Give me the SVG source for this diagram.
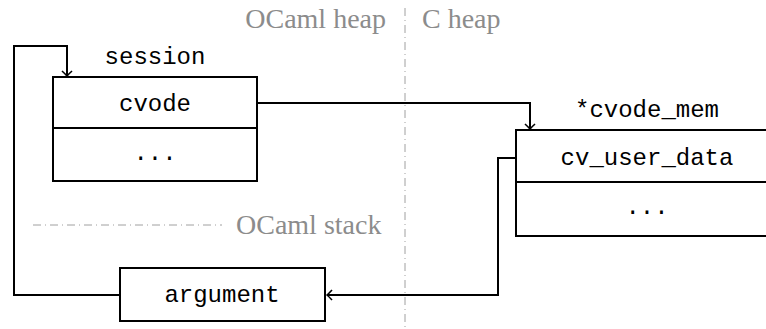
<svg xmlns="http://www.w3.org/2000/svg" width="766" height="329" viewBox="0 0 766 329">
<defs>
<style>
.box{fill:#fff;stroke:#000;stroke-width:2}
.mono{font-family:"Liberation Mono","DejaVu Sans Mono",monospace;font-size:24px;fill:#000;text-anchor:middle}
.gray{font-family:"Liberation Serif","Times New Roman",serif;font-size:28px;fill:#8c8c8c}
.conn{fill:none;stroke:#000;stroke-width:2}
.sep{fill:none;stroke:#a0a0a0;stroke-width:1;stroke-dasharray:8 4 1 4}
</style>
<marker id="arr" viewBox="-6 -6 8 12" markerWidth="8" markerHeight="12" refX="0" refY="0" orient="auto" markerUnits="userSpaceOnUse">
<path d="M-5,-5 Q-1.5,-1.2 0,0 Q-1.5,1.2 -5,5" fill="none" stroke="#000" stroke-width="1.6"/>
</marker>
</defs>
<g id="separators">
<line class="sep" x1="405" y1="8" x2="405" y2="329"/>
<line class="sep" x1="33" y1="225" x2="222" y2="225"/>
<text class="gray" x="386" y="28" text-anchor="end">OCaml heap</text>
<text class="gray" x="422" y="28">C heap</text>
<text class="gray" x="236" y="234">OCaml stack</text>
</g>
<g id="session">
<text class="mono" x="155" y="64">session</text>
<rect class="box" x="53" y="77" width="204" height="104"/>
<line class="conn" x1="53" y1="128" x2="257" y2="128"/>
<text class="mono" x="155" y="111">cvode</text>
<text class="mono" x="155" y="160">...</text>
</g>
<g id="cvode_mem">
<text class="mono" x="647" y="117">*cvode_mem</text>
<rect class="box" x="516" y="130" width="260" height="106"/>
<line class="conn" x1="516" y1="182" x2="776" y2="182"/>
<text class="mono" x="647" y="165">cv_user_data</text>
<text class="mono" x="647" y="214">...</text>
</g>
<g id="argument">
<rect class="box" x="120" y="268" width="205" height="53"/>
<text class="mono" x="222" y="302">argument</text>
</g>
<g id="connectors">
<polyline class="conn" points="257,103 530,103 530,129" marker-end="url(#arr)"/>
<polyline class="conn" points="516,158 498,158 498,295 327,295" marker-end="url(#arr)"/>
<polyline class="conn" points="120,295 14,295 14,46 67,46 67,76" marker-end="url(#arr)"/>
</g>
</svg>
